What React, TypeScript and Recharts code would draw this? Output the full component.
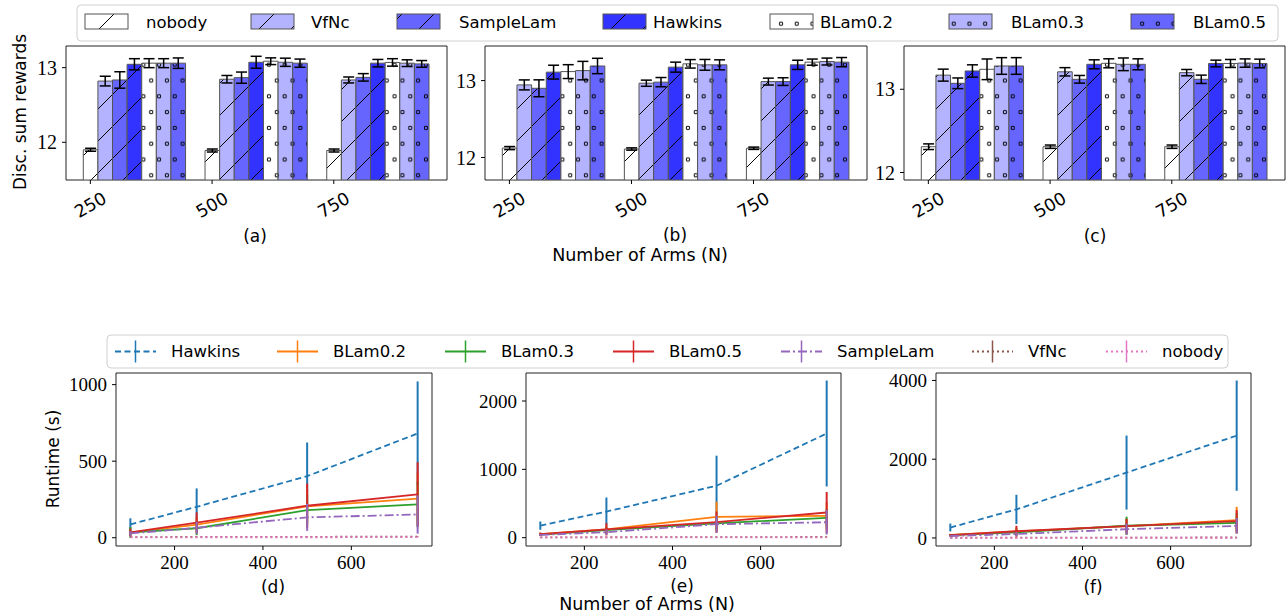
import React from 'react';
import { ComposedChart, Bar, Line, XAxis, YAxis, ErrorBar, ReferenceArea } from 'recharts';

const SANS = '"DejaVu Sans", sans-serif';
const SERIF = '"Liberation Serif", "DejaVu Serif", serif';

// ---------- Top row: discounted sum rewards (bar charts) ----------
const categories = ['250', '500', '750'];
const barSeries = ['nobody', 'VfNc', 'SampleLam', 'Hawkins', 'BLam0.2', 'BLam0.3', 'BLam0.5'];
const barColors = ['#ffffff', '#b3b3ff', '#6666ff', '#3333ff', '#ffffff', '#b3b3ff', '#6666ff'];
const barHatch = ['slash', 'slash', 'slash', 'slash', 'dots', 'dots', 'dots'];

// rows: series (barSeries order), columns: categories
const rewardMeanA = [
  [11.9, 11.89, 11.89],
  [12.82, 12.845, 12.835],
  [12.835, 12.866, 12.87],
  [13.045, 13.072, 13.06],
  [13.06, 13.086, 13.07],
  [13.06, 13.072, 13.06],
  [13.06, 13.06, 13.05],
];
const rewardErrA = [
  [0.02, 0.02, 0.02],
  [0.065, 0.05, 0.04],
  [0.11, 0.075, 0.05],
  [0.075, 0.08, 0.05],
  [0.06, 0.045, 0.05],
  [0.06, 0.055, 0.045],
  [0.07, 0.055, 0.045],
];
const rewardMeanB = [
  [12.122, 12.11, 12.12],
  [12.944, 12.966, 12.987],
  [12.9, 12.98, 12.987],
  [13.11, 13.175, 13.205],
  [13.117, 13.218, 13.24],
  [13.13, 13.205, 13.248],
  [13.19, 13.205, 13.24],
];
const rewardErrB = [
  [0.02, 0.015, 0.015],
  [0.065, 0.04, 0.045],
  [0.11, 0.06, 0.05],
  [0.09, 0.065, 0.06],
  [0.09, 0.055, 0.04],
  [0.12, 0.07, 0.045],
  [0.1, 0.065, 0.06],
];
const rewardMeanC = [
  [12.31, 12.31, 12.31],
  [13.17, 13.21, 13.2],
  [13.072, 13.12, 13.12],
  [13.22, 13.3, 13.31],
  [13.24, 13.312, 13.31],
  [13.28, 13.3, 13.315],
  [13.28, 13.3, 13.31],
];
const rewardErrC = [
  [0.034, 0.02, 0.02],
  [0.072, 0.05, 0.038],
  [0.064, 0.046, 0.05],
  [0.074, 0.054, 0.04],
  [0.124, 0.054, 0.048],
  [0.1, 0.076, 0.05],
  [0.1, 0.066, 0.052],
];
const rewardTicks = [12, 13];

// ---------- Bottom row: runtime (line charts) ----------
const armCounts = [100, 250, 500, 750];
const lineSeries = ['Hawkins', 'BLam0.2', 'BLam0.3', 'BLam0.5', 'SampleLam', 'VfNc', 'nobody'];
const lineColors = ['#1f77b4', '#ff7f0e', '#2ca02c', '#d62728', '#9467bd', '#8c564b', '#e377c2'];
const lineDash = ['6 3.5', undefined, undefined, undefined, '9 3 2 3', '2 3', '2 3'];

// rows: series (lineSeries order), columns: armCounts
const runtimeMeanD = [
  [87, 202, 402, 681],
  [33, 85, 205, 255],
  [35, 62, 180, 218],
  [35, 98, 209, 283],
  [28, 65, 133, 152],
  [4, 5, 6, 7],
  [2, 3, 3, 4],
];
const runtimeErrD = [
  [40, 120, 220, 340],
  [20, 50, 110, 170],
  [35, 45, 100, 150],
  [25, 68, 145, 210],
  [15, 40, 88, 125],
  [1, 1, 2, 2],
  [1, 1, 1, 1],
];
const runtimeMeanE = [
  [176, 382, 760, 1525],
  [50, 120, 305, 318],
  [45, 110, 210, 290],
  [50, 122, 228, 368],
  [40, 80, 197, 226],
  [5, 6, 8, 10],
  [3, 3, 4, 5],
];
const runtimeErrE = [
  [60, 206, 440, 775],
  [20, 60, 220, 200],
  [20, 50, 100, 130],
  [25, 90, 155, 300],
  [15, 40, 125, 180],
  [2, 2, 3, 3],
  [1, 1, 1, 1],
];
const runtimeMeanF = [
  [265, 725, 1660, 2598],
  [75, 165, 300, 450],
  [70, 140, 310, 383],
  [70, 170, 300, 426],
  [50, 100, 222, 307],
  [5, 8, 10, 12],
  [3, 4, 5, 6],
];
const runtimeErrF = [
  [100, 370, 940, 1400],
  [30, 100, 200, 340],
  [30, 80, 230, 250],
  [30, 140, 180, 280],
  [20, 50, 140, 200],
  [2, 3, 4, 4],
  [1, 1, 1, 1],
];

// ---------- layout ----------
const YW = 60;
const MT = 5;
const MR = 2;
const XH = 50;
const BAR_W = 0.12;
const BAR_X_DOMAIN: [number, number] = [-0.2, 2.93];
const LINE_X_DOMAIN: [number, number] = [67.5, 782.5];

const RotTick = (props: any) => {
  const { x, y, payload } = props;
  const label = categories[Math.round(payload.value)];
  const cy = y + 19;
  return (
    <text x={x} y={cy} textAnchor="middle" dominantBaseline="central" transform={`rotate(-30 ${x} ${cy})`}
      fontFamily={SANS} fontSize={17.5} fill="#000">{label}</text>
  );
};

function BarPanel({ mean, err, yDomain, rect }: { mean: number[][]; err: number[][]; yDomain: [number, number]; rect: number[] }) {
  const [x0, y0, x1, y1] = rect;
  const plotW = x1 - x0;
  const plotH = y1 - y0;
  const barSize = (plotW / (BAR_X_DOMAIN[1] - BAR_X_DOMAIN[0])) * BAR_W;
  const rows = categories.map((c, i) => {
    const r: any = { x: i + 3 * BAR_W, cat: c };
    barSeries.forEach((_, j) => {
      r['v' + j] = mean[j][i];
      r['e' + j] = err[j][i];
    });
    return r;
  });
  return (
    <div style={{ position: 'absolute', left: x0 - YW, top: y0 - MT }}>
      <ComposedChart width={plotW + YW + MR} height={plotH + MT + XH} data={rows}
        margin={{ top: MT, right: MR, left: 0, bottom: 0 }} barGap={0} barCategoryGap={0}>
        <XAxis type="number" dataKey="x" domain={BAR_X_DOMAIN} allowDataOverflow ticks={[0, 1, 2]}
          height={XH} axisLine={false} tickSize={4} tickMargin={2} tickLine={{ stroke: '#000' }}
          tick={<RotTick />} interval={0} />
        <YAxis type="number" domain={yDomain} allowDataOverflow ticks={rewardTicks} width={YW}
          axisLine={false} tickSize={4} tickMargin={5} tickLine={{ stroke: '#000' }}
          tick={{ fontFamily: SERIF, fontSize: 20, fill: '#000' }} interval={0} />
        {barSeries.map((s, j) => (
          <Bar key={s} dataKey={'v' + j} name={s} fill={`url(#hatch-${j})`} stroke="#555" strokeWidth={1}
            barSize={barSize} isAnimationActive={false}>
            <ErrorBar dataKey={'e' + j} width={5.5} stroke="#000" strokeWidth={1.5} direction="y" />
          </Bar>
        ))}
        <ReferenceArea x1={BAR_X_DOMAIN[0]} x2={BAR_X_DOMAIN[1]} y1={yDomain[0]} y2={yDomain[1]}
          fill="none" fillOpacity={0} stroke="#222" strokeWidth={1} ifOverflow="visible" />
      </ComposedChart>
    </div>
  );
}

function LinePanel({ mean, err, yDomain, yTicks, rect }: { mean: number[][]; err: number[][]; yDomain: [number, number]; yTicks: number[]; rect: number[] }) {
  const [x0, y0, x1, y1] = rect;
  const plotW = x1 - x0;
  const plotH = y1 - y0;
  const rows = armCounts.map((n, i) => {
    const r: any = { n };
    lineSeries.forEach((_, j) => {
      r['v' + j] = mean[j][i];
      r['e' + j] = err[j][i];
    });
    return r;
  });
  return (
    <div style={{ position: 'absolute', left: x0 - YW, top: y0 - MT }}>
      <ComposedChart width={plotW + YW + MR} height={plotH + MT + XH} data={rows}
        margin={{ top: MT, right: MR, left: 0, bottom: 0 }}>
        <XAxis type="number" dataKey="n" domain={LINE_X_DOMAIN} allowDataOverflow ticks={[200, 400, 600]}
          height={XH} axisLine={false} tickSize={4} tickMargin={6} tickLine={{ stroke: '#000' }}
          tick={{ fontFamily: SERIF, fontSize: 19, fill: '#000' }} interval={0} />
        <YAxis type="number" domain={yDomain} allowDataOverflow ticks={yTicks} width={YW}
          axisLine={false} tickSize={4} tickMargin={5} tickLine={{ stroke: '#000' }}
          tick={{ fontFamily: SERIF, fontSize: 19, fill: '#000' }} interval={0} />
        {lineSeries.map((s, j) => (
          <Line key={s} type="linear" dataKey={'v' + j} name={s} stroke={lineColors[j]} strokeWidth={1.8}
            strokeDasharray={lineDash[j]} dot={false} activeDot={false} isAnimationActive={false}>
            <ErrorBar dataKey={'e' + j} width={0} stroke={lineColors[j]} strokeWidth={2} direction="y" />
          </Line>
        ))}
        <ReferenceArea x1={LINE_X_DOMAIN[0]} x2={LINE_X_DOMAIN[1]} y1={yDomain[0]} y2={yDomain[1]}
          fill="none" fillOpacity={0} stroke="#222" strokeWidth={1} ifOverflow="visible" />
      </ComposedChart>
    </div>
  );
}

const topLegendPatchX = [85, 251, 397, 603, 770, 949, 1131];
const topLegendTextX = [146, 311, 459, 653, 820, 1011, 1193];
const botLegendLineX = [115, 277, 445, 613, 781, 972, 1106];
const botLegendTextX = [171, 333, 501, 669, 837, 1028, 1162];

function Patterns() {
  return (
    <svg width={0} height={0} style={{ position: 'absolute', left: 0, top: 0 }}>
      <defs>
        {barSeries.map((s, j) =>
          barHatch[j] === 'slash' ? (
            <pattern key={s} id={`hatch-${j}`} patternUnits="userSpaceOnUse" width={32} height={32}>
              <rect width={32} height={32} fill={barColors[j]} />
              <path d="M0,32 L32,0 M-8,8 L8,-8 M24,40 L40,24" stroke="#000" strokeWidth={1} />
            </pattern>
          ) : (
            <pattern key={s} id={`hatch-${j}`} patternUnits="userSpaceOnUse" width={15.7} height={31.6}>
              <rect width={15.7} height={31.6} fill={barColors[j]} />
              <circle cx={3.9} cy={7.9} r={1.7} fill="none" stroke="#000" strokeWidth={1} />
              <circle cx={11.75} cy={23.7} r={1.7} fill="none" stroke="#000" strokeWidth={1} />
            </pattern>
          )
        )}
      </defs>
    </svg>
  );
}

function Overlay() {
  const t = { fontFamily: SANS, fill: '#000' } as const;
  return (
    <svg width={1288} height={614} style={{ position: 'absolute', left: 0, top: 0, pointerEvents: 'none' }}>
      {/* top legend */}
      <rect x={77} y={5} width={1201} height={36} rx={4} fill="#fff" fillOpacity={0.8} stroke="#d0d0d0" />
      {barSeries.map((s, j) => (
        <g key={s}>
          <rect x={topLegendPatchX[j]} y={14} width={43} height={15} fill={`url(#hatch-${j})`} stroke="#555" />
          <text x={topLegendTextX[j]} y={22} dominantBaseline="central" fontSize={16.5} {...t}>{s}</text>
        </g>
      ))}
      {/* bottom legend */}
      <rect x={107} y={335} width={1121} height={33} rx={4} fill="#fff" fillOpacity={0.8} stroke="#d0d0d0" />
      {lineSeries.map((s, j) => (
        <g key={s}>
          <line x1={botLegendLineX[j]} x2={botLegendLineX[j] + 41} y1={351.5} y2={351.5} stroke={lineColors[j]}
            strokeWidth={1.8} strokeDasharray={lineDash[j]} />
          <line x1={botLegendLineX[j] + 20.5} x2={botLegendLineX[j] + 20.5} y1={340.5} y2={362.5}
            stroke={lineColors[j]} strokeWidth={1.5} />
          <text x={botLegendTextX[j]} y={351.5} dominantBaseline="central" fontSize={16.5} {...t}>{s}</text>
        </g>
      ))}
      {/* axis labels and captions */}
      <text x={20} y={112} transform="rotate(-90 20 112)" textAnchor="middle" dominantBaseline="central" fontSize={17} {...t}>Disc. sum rewards</text>
      <text x={255} y={236} textAnchor="middle" dominantBaseline="central" fontSize={17} {...t}>(a)</text>
      <text x={675} y={235} textAnchor="middle" dominantBaseline="central" fontSize={17} {...t}>(b)</text>
      <text x={1095} y={236} textAnchor="middle" dominantBaseline="central" fontSize={17} {...t}>(c)</text>
      <text x={640} y={255} textAnchor="middle" dominantBaseline="central" fontSize={17.5} {...t}>Number of Arms (N)</text>
      <text x={52.5} y={459} transform="rotate(-90 52.5 459)" textAnchor="middle" dominantBaseline="central" fontSize={17} {...t}>Runtime (s)</text>
      <text x={273} y={587} textAnchor="middle" dominantBaseline="central" fontSize={17} {...t}>(d)</text>
      <text x={682} y={586} textAnchor="middle" dominantBaseline="central" fontSize={17} {...t}>(e)</text>
      <text x={1093} y={587} textAnchor="middle" dominantBaseline="central" fontSize={17} {...t}>(f)</text>
      <text x={647} y={604} textAnchor="middle" dominantBaseline="central" fontSize={17.5} {...t}>Number of Arms (N)</text>
    </svg>
  );
}

export default function App() {
  return (
    <div style={{ position: 'absolute', left: 0, top: 0, width: 1288, height: 614, overflow: 'hidden', background: '#fff' }}>
      <Patterns />
      <BarPanel mean={rewardMeanA} err={rewardErrA} yDomain={[11.495, 13.29]} rect={[66, 46, 447, 180]} />
      <BarPanel mean={rewardMeanB} err={rewardErrB} yDomain={[11.707, 13.45]} rect={[485, 46, 867, 180]} />
      <BarPanel mean={rewardMeanC} err={rewardErrC} yDomain={[11.91, 13.52]} rect={[904, 46, 1285, 180]} />
      <LinePanel mean={runtimeMeanD} err={runtimeErrD} yDomain={[-54, 1076]} yTicks={[0, 500, 1000]} rect={[116, 373, 432, 546]} />
      <LinePanel mean={runtimeMeanE} err={runtimeErrE} yDomain={[-122, 2410]} yTicks={[0, 1000, 2000]} rect={[526, 373, 841, 546]} />
      <LinePanel mean={runtimeMeanF} err={runtimeErrF} yDomain={[-204, 4189]} yTicks={[0, 2000, 4000]} rect={[936, 373, 1251, 546]} />
      <Overlay />
    </div>
  );
}
